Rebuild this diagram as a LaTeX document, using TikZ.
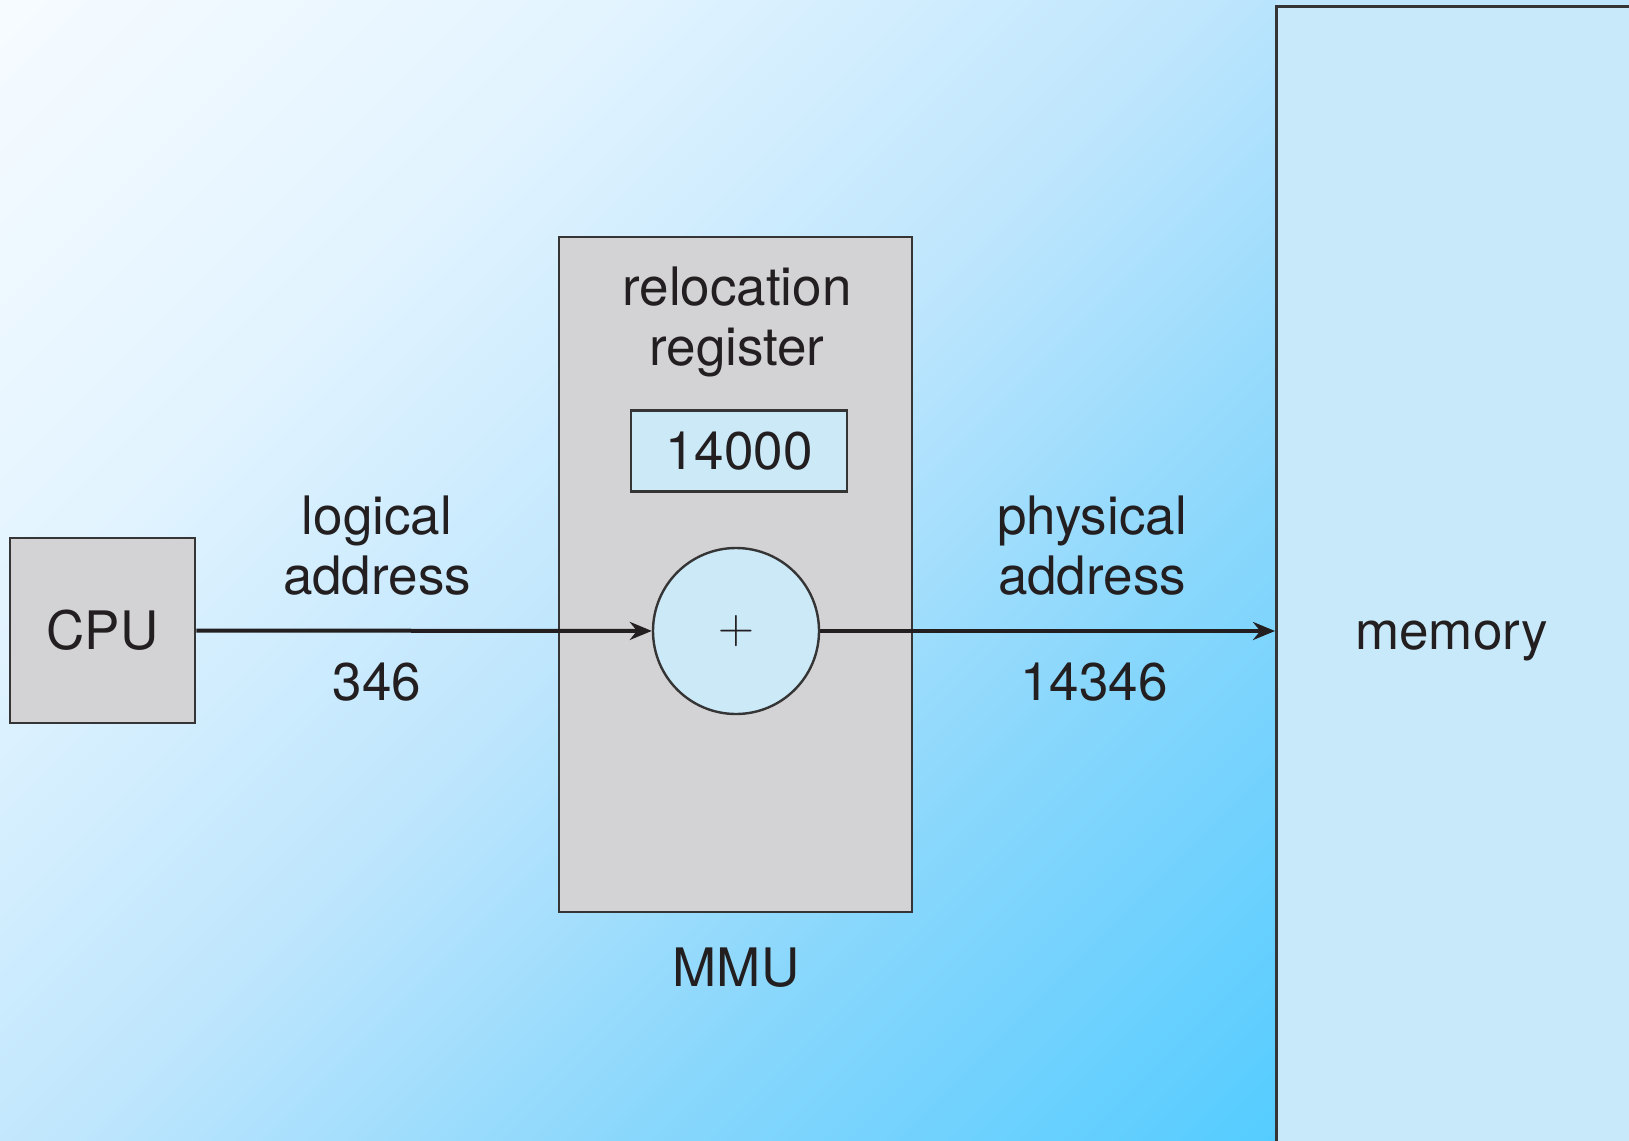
\documentclass[tikz,border=0pt]{standalone}
\usepackage{fontspec}
\setmainfont{TeX Gyre Heros}
\usetikzlibrary{arrows.meta,positioning}
\definecolor{bgA}{HTML}{F6FBFF}
\definecolor{bgB}{HTML}{E3F4FF}
\definecolor{bgC}{HTML}{BFE6FD}
\definecolor{bgD}{HTML}{8AD7FC}
\definecolor{bgE}{HTML}{55CCFF}
\definecolor{unitgray}{HTML}{D3D3D5}
\definecolor{regblue}{HTML}{CCE9F8}
\definecolor{memblue}{HTML}{C8E9FA}
\definecolor{linegray}{HTML}{353535}
\definecolor{inkgray}{HTML}{231F20}
\pgfdeclarehorizontalshading{bgshade}{100bp}{color(0bp)=(bgA); color(14.64bp)=(bgA);
  color(32.32bp)=(bgB); color(50bp)=(bgC); color(66.26bp)=(bgD); color(85.36bp)=(bgE);
  color(100bp)=(bgE)}

\begin{document}
\begin{tikzpicture}[
  x=0.5pt, y=-0.5pt,
  font=\fontsize{26.5}{30}\selectfont,
  text=inkgray,
  box/.style={draw=linegray, line width=1.4pt, fill=unitgray, inner sep=0pt},
  regbox/.style={box, fill=regblue, minimum width=108pt, minimum height=40.5pt},
  adderbox/.style={circle, draw=linegray, line width=1.2pt, fill=regblue, minimum size=83pt, inner sep=0pt},
  membox/.style={box, fill=memblue, anchor=north west, minimum width=182.5pt, minimum height=634.3pt},
  lbl/.style={align=center, inner sep=0pt},
  arrow/.style={-{Stealth[length=11pt, width=9pt]}, line width=2pt, draw=inkgray}
]
\useasboundingbox (0,0) rectangle (1629,1141);
\clip (0,0) rectangle (1629,1141);
\shade[shading=bgshade, shading angle=-45] (0,0) rectangle (1276,1141);
\fill[bgC] (1276,0) rectangle (1629,6);

% units
\node[box, minimum width=176.5pt, minimum height=337.5pt] (mmu) at (735.5,574.5) {};
\node[box, minimum width=92.5pt, minimum height=92.5pt] (cpu) at (102.5,630.5) {CPU};
\node[regbox] (reg) at (739,451) {14000};
\node[adderbox] (adder) at (736,631) {\fontsize{23}{26}\selectfont$+$};
\node[membox] (mem) at (1275,5) {memory\hspace*{7.3pt}};

% labels
\node[lbl] (reglbl) at (737,322) {relocation\\register};
\node[lbl] (mmulbl) at (736,968) {MMU};
\node[lbl] (logical) at (377,546) {logical\\address};
\node[lbl] (logval) at (377,682) {346};
\node[lbl] (physical) at (1092,546) {physical\\address};
\node[lbl] (physval) at (1094,682) {14346};

\draw[arrow] (cpu) -- (adder);
\draw[arrow] (adder) -- (adder -| mem.west);
\end{tikzpicture}
\end{document}
